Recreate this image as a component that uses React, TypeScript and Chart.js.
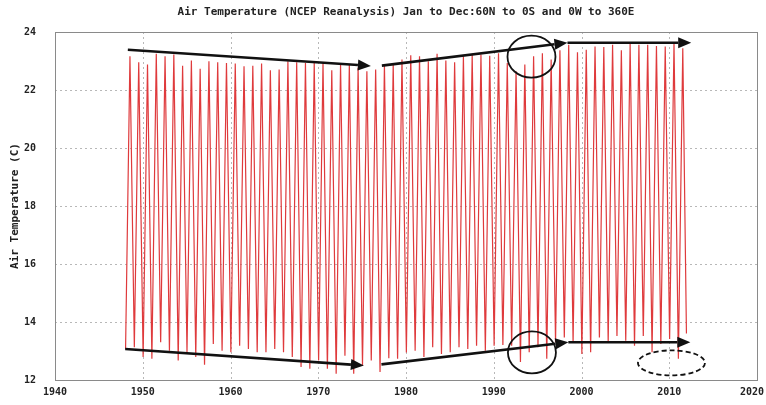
import React, { useEffect, useRef } from "react";
import { Chart, registerables } from "chart.js";

Chart.register(...registerables);

// ---- data ----
const TITLE = "Air Temperature (NCEP Reanalysis) Jan to Dec:60N to 0S and 0W to 360E";
const Y_TITLE = "Air Temperature (C)";
const FIRST_YEAR = 1948;
// annual maximum (July) values, 1948..2011
const ANNUAL_PEAK = [
  23.16, 22.96, 22.88, 23.25, 23.16, 23.22, 22.84, 23.02, 22.73, 22.99,
  22.96, 22.93, 22.91, 22.82, 22.84, 22.91, 22.68, 22.71, 22.99, 22.96,
  22.93, 22.93, 22.93, 22.68, 22.88, 22.88, 22.77, 22.65, 22.71, 22.88,
  22.88, 23.05, 23.2, 23.16, 22.99, 23.25, 23.02, 22.96, 23.16, 23.22,
  23.22, 23.18, 23.27, 22.93, 22.65, 22.88, 23.16, 23.27, 23.05, 23.37,
  23.56, 23.3, 23.39, 23.5, 23.48, 23.56, 23.37, 23.59, 23.56, 23.56,
  23.52, 23.5, 23.61, 23.44,
];
// annual minimum (January) values, 1948..2011
const ANNUAL_TROUGH = [
  13.07, 13.13, 12.79, 12.73, 13.3, 13.01, 12.67, 12.96, 12.79, 12.53,
  13.24, 13.01, 12.96, 13.18, 13.07, 12.96, 12.96, 13.07, 12.96, 12.79,
  12.45, 12.39, 12.67, 12.39, 12.22, 12.84, 12.22, 12.5, 12.67, 12.28,
  12.75, 12.73, 12.95, 13.01, 12.79, 13.13, 12.9, 12.96, 13.13, 13.07,
  13.18, 13.01, 13.18, 13.21, 13.18, 12.62, 12.96, 13.13, 12.73, 13.3,
  13.47, 13.3, 12.9, 12.96, 13.47, 13.3, 13.52, 13.35, 13.18, 13.52,
  12.96, 13.24, 13.41, 12.73,
];
const FINAL_DEC_VALUE = 13.6;
const MIN_MONTH = 0; // January
const MAX_MONTH = 6; // July
const X_TICKS = [1940, 1950, 1960, 1970, 1980, 1990, 2000, 2010, 2020];
const Y_TICKS = [12, 14, 16, 18, 20, 22, 24];

// ---- hand-drawn annotations (data units) ----
const ARROWS = [
  { from: [1948.3, 23.39], to: [1976.0, 22.83] },
  { from: [1977.25, 22.84], to: [1998.4, 23.63] },
  { from: [1998.4, 23.63], to: [2012.5, 23.63] },
  { from: [1948.0, 13.07], to: [1975.2, 12.5] },
  { from: [1977.2, 12.54], to: [1998.5, 13.3] },
  { from: [1998.5, 13.3], to: [2012.4, 13.3] },
];
const CIRCLES = [
  { at: [1994.3, 23.15], rx: 24, ry: 21, dashed: false },
  { at: [1994.35, 12.95], rx: 24, ry: 21, dashed: false },
  { at: [2010.25, 12.59], rx: 33.5, ry: 12.5, dashed: true },
];

const FONT = "'DejaVu Sans Mono', 'Liberation Mono', monospace";

function buildPoints() {
  const pts: { x: number; y: number }[] = [];
  ANNUAL_PEAK.forEach((peak, i) => {
    const yr = FIRST_YEAR + i;
    pts.push({ x: yr + (MIN_MONTH + 0.5) / 12, y: ANNUAL_TROUGH[i] });
    pts.push({ x: yr + (MAX_MONTH + 0.5) / 12, y: peak });
  });
  pts.push({ x: FIRST_YEAR + ANNUAL_PEAK.length - 1 + 11.5 / 12, y: FINAL_DEC_VALUE });
  return pts;
}

const overlay = {
  id: "overlay",
  beforeDatasetsDraw(chart: any) {
    const { ctx, chartArea: a, scales } = chart;
    ctx.save();
    ctx.strokeStyle = "#b8b8b8";
    ctx.lineWidth = 1;
    ctx.setLineDash([2, 3]);
    X_TICKS.slice(1, -1).forEach((v) => {
      const x = Math.round(scales.x.getPixelForValue(v)) + 0.5;
      ctx.beginPath();
      ctx.moveTo(x, a.top);
      ctx.lineTo(x, a.bottom);
      ctx.stroke();
    });
    Y_TICKS.slice(1, -1).forEach((v) => {
      const y = Math.round(scales.y.getPixelForValue(v)) + 0.5;
      ctx.beginPath();
      ctx.moveTo(a.left, y);
      ctx.lineTo(a.right, y);
      ctx.stroke();
    });
    ctx.restore();
  },
  afterDatasetsDraw(chart: any) {
    const { ctx, chartArea: a, scales } = chart;
    ctx.save();
    // frame
    ctx.strokeStyle = "#8a8a8a";
    ctx.lineWidth = 1;
    ctx.strokeRect(Math.round(a.left) + 0.5, Math.round(a.top) + 0.5, Math.round(a.right - a.left), Math.round(a.bottom - a.top));
    // arrows
    ctx.strokeStyle = "#111";
    ctx.fillStyle = "#111";
    ARROWS.forEach(({ from, to }) => {
      const x1 = scales.x.getPixelForValue(from[0]);
      const y1 = scales.y.getPixelForValue(from[1]);
      const x2 = scales.x.getPixelForValue(to[0]);
      const y2 = scales.y.getPixelForValue(to[1]);
      const ang = Math.atan2(y2 - y1, x2 - x1);
      const hl = 13;
      const hw = 5.5;
      const bx = x2 - hl * Math.cos(ang);
      const by = y2 - hl * Math.sin(ang);
      ctx.lineWidth = 2.6;
      ctx.beginPath();
      ctx.moveTo(x1, y1);
      ctx.lineTo(bx, by);
      ctx.stroke();
      ctx.beginPath();
      ctx.moveTo(x2, y2);
      ctx.lineTo(bx + hw * Math.sin(ang), by - hw * Math.cos(ang));
      ctx.lineTo(bx - hw * Math.sin(ang), by + hw * Math.cos(ang));
      ctx.closePath();
      ctx.fill();
    });
    CIRCLES.forEach(({ at, rx, ry, dashed }) => {
      const cx = scales.x.getPixelForValue(at[0]);
      const cy = scales.y.getPixelForValue(at[1]);
      ctx.lineWidth = 1.8;
      ctx.setLineDash(dashed ? [5, 3] : []);
      ctx.beginPath();
      ctx.ellipse(cx, cy, rx, ry, 0, 0, Math.PI * 2);
      ctx.stroke();
    });
    ctx.restore();
  },
  afterDraw(chart: any) {
    const { ctx, chartArea: a, scales, width } = chart;
    ctx.save();
    ctx.fillStyle = "#222";
    // x tick labels (kept inside the canvas)
    ctx.font = `bold 10px ${FONT}`;
    ctx.textAlign = "center";
    ctx.textBaseline = "top";
    X_TICKS.forEach((v) => {
      const label = String(v);
      const w = ctx.measureText(label).width;
      let x = scales.x.getPixelForValue(v);
      x = Math.min(x, width - 2 - w / 2);
      ctx.fillText(label, x, a.bottom + 7);
    });
    // titles
    ctx.font = `bold 11px ${FONT}`;
    ctx.textBaseline = "middle";
    ctx.fillText(TITLE, (a.left + a.right) / 2, 12);
    ctx.translate(15, (a.top + a.bottom) / 2);
    ctx.rotate(-Math.PI / 2);
    ctx.fillText(Y_TITLE, 0, 0);
    ctx.restore();
  },
};

export default function App() {
  const ref = useRef<HTMLCanvasElement | null>(null);
  useEffect(() => {
    if (!ref.current) return;
    const chart = new Chart(ref.current, {
      type: "line",
      data: {
        datasets: [
          {
            data: buildPoints(),
            borderColor: "#df3a3c",
            borderWidth: 1.2,
            pointRadius: 0,
            tension: 0,
            fill: false,
          },
        ],
      },
      options: {
        animation: false,
        responsive: false,
        devicePixelRatio: 1,
        layout: { padding: { top: 32, left: 0, right: 0, bottom: 0 } },
        plugins: {
          legend: { display: false },
          title: { display: false },
          tooltip: { enabled: false },
        },
        scales: {
          x: {
            type: "linear",
            min: 1940,
            max: 2020,
            afterBuildTicks: (s: any) => {
              s.ticks = X_TICKS.map((value) => ({ value }));
            },
            afterFit: (s: any) => {
              s.height = 20;
              s.paddingLeft = 0;
              s.paddingRight = 9;
            },
            ticks: { display: false },
            grid: { display: false, drawTicks: false },
            border: { display: false },
          },
          y: {
            type: "linear",
            min: 12,
            max: 24,
            afterBuildTicks: (s: any) => {
              s.ticks = Y_TICKS.map((value) => ({ value }));
            },
            afterFit: (s: any) => {
              s.width = 55;
            },
            ticks: {
              callback: (v: any) => String(v),
              font: { family: FONT, size: 10, weight: "bold" },
              color: "#222",
              padding: 19,
              autoSkip: false,
            },
            grid: { display: false, drawTicks: false },
            border: { display: false },
          },
        },
      } as any,
      plugins: [overlay],
    });
    return () => chart.destroy();
  }, []);
  return (
    <div style={{ position: "fixed", left: 0, top: 0, width: 766, height: 405, background: "#fff" }}>
      <canvas ref={ref} width={766} height={405} style={{ width: 766, height: 405, display: "block" }} />
    </div>
  );
}
